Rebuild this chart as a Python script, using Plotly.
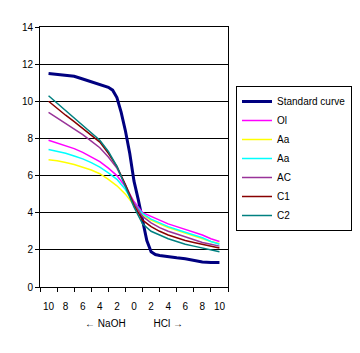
import plotly.graph_objects as go

# x positions: negative = NaOH added, positive = HCl added
x_std = [-10, -9, -8, -7, -6, -5, -4, -3, -2.5, -2, -1.5, -1, -0.5, 0, 0.5, 1, 1.5, 2, 2.5, 3, 4, 5, 6, 7, 8, 9, 10]
standard = [11.5, 11.45, 11.42, 11.35, 11.2, 11.05, 10.9, 10.75, 10.6, 10.2, 9.4, 8.4, 7.2, 5.7, 4.7, 3.65, 2.5, 1.9, 1.75, 1.7, 1.62, 1.57, 1.52, 1.42, 1.35, 1.32, 1.32]

x = list(range(-10, 11))
ol = [7.9, 7.75, 7.6, 7.45, 7.25, 7.0, 6.75, 6.4, 6.0, 5.4, 4.6, 4.0, 3.8, 3.6, 3.4, 3.25, 3.1, 2.95, 2.8, 2.6, 2.45]
aa_yellow = [6.85, 6.8, 6.7, 6.6, 6.45, 6.3, 6.1, 5.8, 5.45, 5.0, 4.4, 3.9, 3.6, 3.4, 3.2, 3.05, 2.9, 2.75, 2.6, 2.45, 2.35]
aa_cyan = [7.4, 7.3, 7.2, 7.05, 6.9, 6.7, 6.45, 6.15, 5.8, 5.25, 4.5, 3.95, 3.65, 3.45, 3.25, 3.1, 2.95, 2.8, 2.65, 2.45, 2.3]
ac = [9.4, 9.1, 8.8, 8.5, 8.2, 7.85, 7.5, 7.0, 6.4, 5.5, 4.5, 3.8, 3.45, 3.2, 3.0, 2.85, 2.7, 2.55, 2.4, 2.3, 2.2]
c1 = [10.0, 9.6, 9.25, 8.9, 8.55, 8.2, 7.8, 7.2, 6.5, 5.5, 4.4, 3.6, 3.25, 3.0, 2.8, 2.65, 2.5, 2.4, 2.3, 2.2, 2.1]
c2 = [10.3, 9.9, 9.55, 9.15, 8.75, 8.35, 7.9, 7.3, 6.5, 5.4, 4.3, 3.4, 3.0, 2.8, 2.6, 2.45, 2.3, 2.2, 2.1, 2.0, 1.9]

tick_vals = [-10, -8, -6, -4, -2, 0, 2, 4, 6, 8, 10]
tick_text = ["10", "8", "6", "4", "2", "0", "2", "4", "6", "8", "10"]

FONT = "Liberation Sans, Arial, sans-serif"

fig = go.Figure()
fig.add_trace(go.Scatter(x=x_std, y=standard, mode="lines", name="Standard curve",
                         line=dict(color="#000080", width=3)))
series = [
    ("Ol", ol, "#FF00FF"),
    ("Aa", aa_yellow, "#FFFF00"),
    ("Aa", aa_cyan, "#00FFFF"),
    ("AC", ac, "#993399"),
    ("C1", c1, "#880000"),
    ("C2", c2, "#008080"),
]
for name, vals, col in series:
    fig.add_trace(go.Scatter(x=x, y=vals, mode="lines", name=name,
                             line=dict(color=col, width=1.5)))

fig.update_layout(
    width=360, height=353,
    margin=dict(l=40, r=132, t=27, b=66, autoexpand=False),
    paper_bgcolor="white", plot_bgcolor="white",
    font=dict(family=FONT, size=10, color="black"),
    showlegend=True,
    legend=dict(x=(236 - 40) / 188, y=(287 - 86) / 260, xanchor="left", yanchor="top",
                bordercolor="black", borderwidth=1, bgcolor="white",
                font=dict(family=FONT, size=10, color="black"),
                itemwidth=30, tracegroupgap=0),
)
fig.update_xaxes(
    range=[-11, 11], tickmode="array", tickvals=tick_vals, ticktext=tick_text,
    ticks="outside", ticklen=10, tickcolor="rgba(0,0,0,0)",
    showgrid=False, zeroline=False,
    showline=True, linecolor="black", linewidth=1, mirror=True,
    minor=dict(tickmode="linear", tick0=-11, dtick=2, ticks="outside",
               ticklen=4, tickcolor="black", showgrid=False),
    title=dict(text="\u2190 NaOH\u00a0\u00a0\u00a0\u00a0\u00a0\u00a0\u00a0\u00a0\u00a0\u00a0HCl \u2192",
               font=dict(family=FONT, size=10), standoff=8),
    tickfont=dict(family=FONT, size=10),
)
fig.update_yaxes(
    range=[0, 14], dtick=2, tick0=0, showgrid=True, gridcolor="black", gridwidth=1,
    zeroline=False, showline=True, linecolor="black", linewidth=1, mirror=True,
    ticks="outside", ticklen=4, tickcolor="black",
    tickfont=dict(family=FONT, size=10),
)

fig.write_html("out.html")
